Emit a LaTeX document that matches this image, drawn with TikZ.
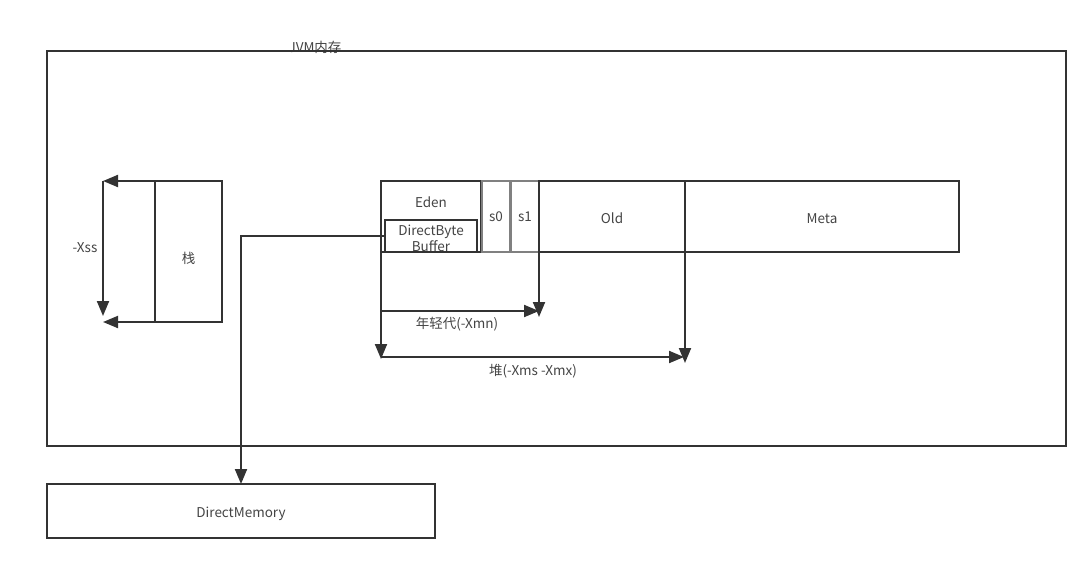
\documentclass[tikz,border=0pt]{standalone}
\usepackage{fontspec}
\setmainfont{Noto Sans CJK SC}
\usetikzlibrary{arrows.meta,positioning}
\definecolor{linegray}{HTML}{333333}
\definecolor{textgray}{HTML}{444444}

\begin{document}
\begin{tikzpicture}[x=1pt,y=-1pt,
  box/.style={draw=linegray, line width=2pt, inner sep=0pt, outer sep=0pt,
    text=textgray, font=\fontsize{13.5}{16}\selectfont},
  boxtext/.style={box, text height=13pt, text depth=0pt},
  lbl/.style={text=textgray, font=\fontsize{13.5}{16}\selectfont, inner sep=0pt},
  arr/.style={-{Triangle[length=15pt,width=12pt]}, draw=linegray, line width=2pt}]
  \useasboundingbox (0,0) rectangle (1091,563);

  % JVM memory
  \node[lbl, anchor=base] (jvmlbl) at (315,52) {JVM内存};
  \node[box, minimum width=1019pt, minimum height=395pt] (jvm) at (556.5,248.5) {};

  % Stack
  \node[boxtext, text height=23pt, minimum width=67pt, minimum height=141pt] (stack) at (188.5,251.5) {栈};
  \coordinate (xssTop) at (103,181);
  \coordinate (xssEnd) at (103,316);
  \coordinate (xssBot) at (103,322);
  \draw[arr] (stack.north west) -- (xssTop);
  \draw[arr] (xssTop) -- (xssEnd);
  \draw[arr] (stack.south west) -- (xssBot);
  \node[lbl] (xss) at (85,248) {-Xss};

  % Heap
  \node[box, minimum width=100pt, minimum height=71pt] (eden) at (431,216.5) {};
  \node[lbl] (edenlbl) at (431,202) {Eden};
  \node[boxtext, text height=10pt, draw=gray, minimum width=28pt, minimum height=71pt] (s0) at (496,216.5) {s0};
  \node[boxtext, text height=10pt, draw=gray, minimum width=28pt, minimum height=71pt] (s1) at (525,216.5) {s1};
  \node[boxtext, minimum width=146pt, minimum height=71pt] (old) at (612,216.5) {Old};
  \node[boxtext, minimum width=274pt, minimum height=71pt] (meta) at (822,216.5) {Meta};
  \node[box, minimum width=92pt, minimum height=32pt] (dbb) at (431,236) {};
  \node[lbl, align=center] (dbblbl) at (431,238.5) {DirectByte\\Buffer};

  % Young generation
  \coordinate (ygStart) at (381,311);
  \coordinate (ygEnd) at (539,311);
  \coordinate (s1End) at (539,317);
  \draw[arr] (ygStart) -- (ygEnd);
  \draw[arr] (s1.south east) -- (s1End);
  \node[lbl] (yglbl) at (457,324) {年轻代(-Xmn)};

  % Heap size
  \coordinate (heapStart) at (381,357);
  \coordinate (heapEnd) at (684,357);
  \coordinate (edenEnd) at (381,359);
  \coordinate (oldEnd) at (685,363);
  \draw[arr] (eden.south west) -- (edenEnd);
  \draw[arr] (heapStart) -- (heapEnd);
  \draw[arr] (old.south east) -- (oldEnd);
  \node[lbl] (heaplbl) at (533,371) {堆(-Xms -Xmx)};

  % Direct memory
  \node[boxtext, minimum width=388pt, minimum height=54pt] (dmem) at (241,511) {DirectMemory};
  \draw[arr] (dbb.west) -| (dmem.north);
\end{tikzpicture}
\end{document}
